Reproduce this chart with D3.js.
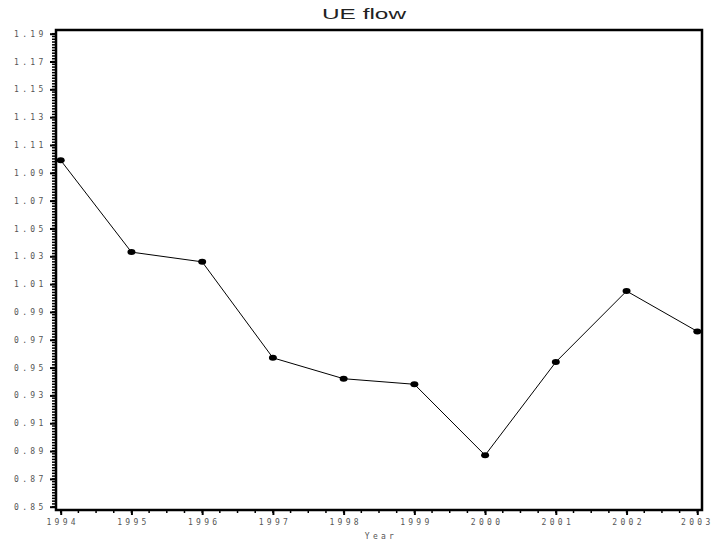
<!DOCTYPE html>
<html>
  <head>
    <meta charset="utf-8">
    <title>UE flow</title>
    <script src="https://d3js.org/d3.v7.min.js"></script>
    <style>
      body { margin: 0; background: #fff; }
      svg { display: block; }
      .tick-label {
        font-family: "DejaVu Sans Mono", monospace;
        font-size: 8px;
        letter-spacing: 3.3px;
        fill: #555;
      }
    </style>
  </head>
  <body>
    <div id="chart"></div>
    <script>
      // data
      const years = [1994, 1995, 1996, 1997, 1998, 1999, 2000, 2001, 2002, 2003];
      const ueFlow = [1.099, 1.033, 1.026, 0.957, 0.942, 0.938, 0.887, 0.954, 1.005, 0.976];
      const yTicks = [0.85, 0.87, 0.89, 0.91, 0.93, 0.95, 0.97, 0.99, 1.01, 1.03, 1.05, 1.07, 1.09, 1.11, 1.13, 1.15, 1.17, 1.19];

      const width = 714;
      const height = 544;
      const frame = {left: 56, top: 30, right: 702, bottom: 510};

      const svg = d3.select("#chart")
        .append("svg")
        .attr("width", width)
        .attr("height", height);

      const x = d3.scaleLinear()
        .domain([1994, 2003])
        .range([60.7, 697.3]);

      const y = d3.scaleLinear()
        .domain([0.85, 1.19])
        .range([506.7, 33.7]);

      // minor ticks
      const yMinor = d3.range(0, 171).map(i => 0.85 + i * 0.002);
      const xMinor = d3.range(0, 37).map(i => 1994 + i * 0.25);

      svg.append("g")
        .selectAll("line")
        .data(yMinor)
        .enter().append("line")
        .attr("x1", frame.left - 4)
        .attr("x2", frame.left)
        .attr("y1", d => y(d))
        .attr("y2", d => y(d))
        .attr("stroke", "#000")
        .attr("stroke-width", 1.5);

      svg.append("g")
        .selectAll("line")
        .data(xMinor)
        .enter().append("line")
        .attr("x1", d => x(d))
        .attr("x2", d => x(d))
        .attr("y1", frame.bottom)
        .attr("y2", frame.bottom + 3)
        .attr("stroke", "#000")
        .attr("stroke-width", 1.5);

      // y axis
      const yAxis = d3.axisLeft(y)
        .tickValues(yTicks)
        .tickFormat(d3.format(".2f"))
        .tickSize(6)
        .tickPadding(7)
        .tickSizeOuter(0);

      svg.append("g")
        .attr("transform", `translate(${frame.left},0)`)
        .call(yAxis)
        .call(g => g.select(".domain").remove())
        .call(g => g.selectAll(".tick line").attr("stroke-width", 2))
        .call(g => g.selectAll(".tick text")
          .attr("class", "tick-label")
          .attr("font-family", null)
          .attr("font-size", null)
          .attr("fill", null)
          .attr("dx", "3.5"));

      // x axis
      const xAxis = d3.axisBottom(x)
        .tickValues(years)
        .tickFormat(d3.format("d"))
        .tickSize(5)
        .tickPadding(4)
        .tickSizeOuter(0);

      svg.append("g")
        .attr("transform", `translate(0,${frame.bottom})`)
        .call(xAxis)
        .call(g => g.select(".domain").remove())
        .call(g => g.selectAll(".tick line").attr("stroke-width", 2))
        .call(g => g.selectAll(".tick text")
          .attr("class", "tick-label")
          .attr("font-family", null)
          .attr("font-size", null)
          .attr("fill", null)
          .attr("dx", d => d === 2003 ? "-0.5" : "1.5"));

      // frame
      svg.append("rect")
        .attr("x", frame.left)
        .attr("y", frame.top)
        .attr("width", frame.right - frame.left)
        .attr("height", frame.bottom - frame.top)
        .attr("fill", "none")
        .attr("stroke", "#000")
        .attr("stroke-width", 2.5);

      // line + markers
      const points = years.map((yr, i) => ({year: yr, value: ueFlow[i]}));

      const line = d3.line()
        .x(d => x(d.year))
        .y(d => y(d.value));

      svg.append("path")
        .datum(points)
        .attr("d", line)
        .attr("fill", "none")
        .attr("stroke", "#000")
        .attr("stroke-width", 1);

      svg.append("g")
        .selectAll("ellipse")
        .data(points)
        .enter().append("ellipse")
        .attr("cx", d => x(d.year))
        .attr("cy", d => y(d.value))
        .attr("rx", 4)
        .attr("ry", 3)
        .attr("fill", "#000");

      // title and axis label
      svg.append("text")
        .attr("x", 364)
        .attr("y", 19)
        .attr("text-anchor", "middle")
        .attr("textLength", 84)
        .attr("lengthAdjust", "spacingAndGlyphs")
        .style("font-family", "'Liberation Sans', Arial, sans-serif")
        .style("font-size", "14px")
        .style("fill", "#222")
        .text("UE flow");

      svg.append("text")
        .attr("class", "tick-label")
        .attr("x", 381)
        .attr("y", 539)
        .attr("text-anchor", "middle")
        .text("Year");
    </script>
  </body>
</html>
